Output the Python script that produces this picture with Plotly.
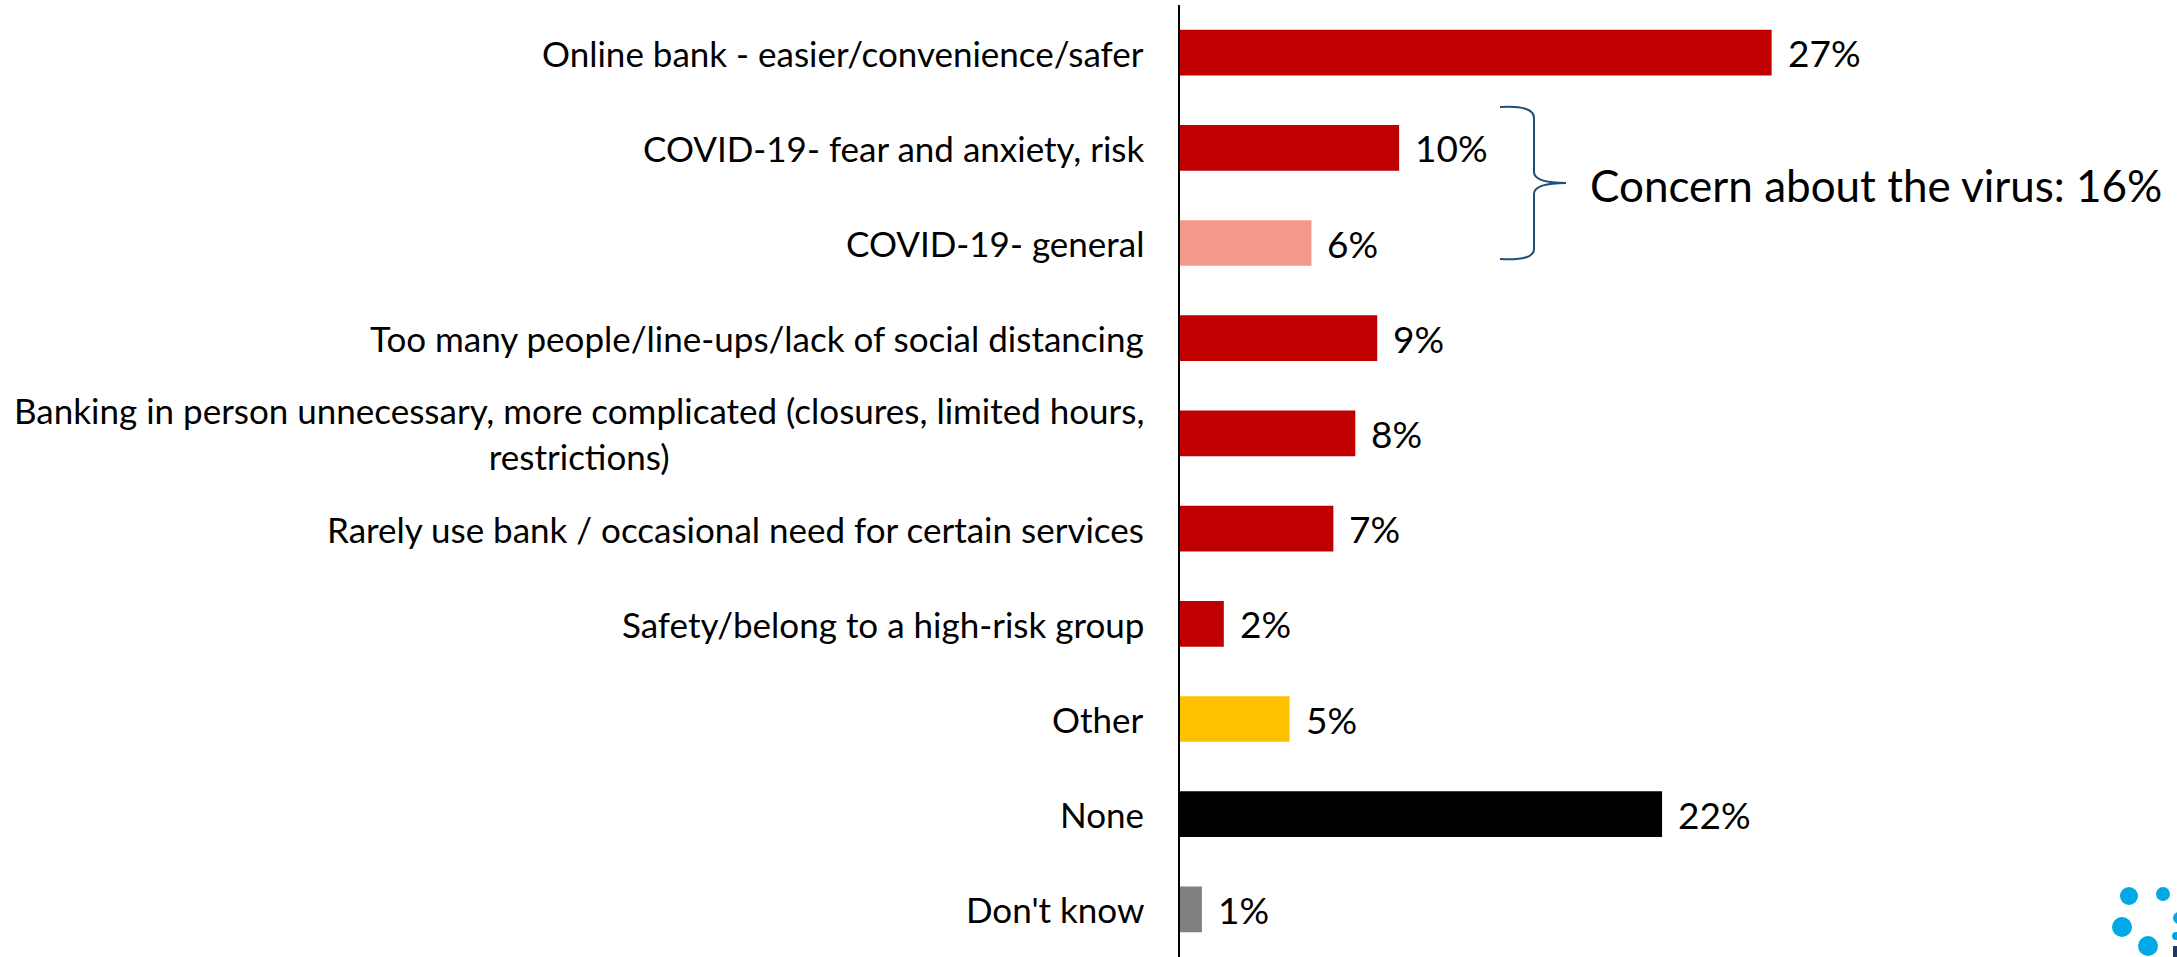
import plotly.graph_objects as go

# Survey categories (top to bottom) and shares in percent
categories = [
    "Online bank - easier/convenience/safer",
    "COVID-19- fear and anxiety, risk",
    "COVID-19- general",
    "Too many people/line-ups/lack of social distancing",
    "Banking in person unnecessary, more complicated (closures, limited hours,<br>restrictions)",
    "Rarely use bank / occasional need for certain services",
    "Safety/belong to a high-risk group",
    "Other",
    "None",
    "Don't know",
]
values = [27, 10, 6, 9, 8, 7, 2, 5, 22, 1]
colors = ["#C00000", "#C00000", "#F4998A", "#C00000", "#C00000",
          "#C00000", "#C00000", "#FFC000", "#000000", "#808080"]

bracket_label = "Concern about the virus: 16%"

FONT = "Lato"
W, H = 2177, 957
ML, MT, MB = 1180, 5, 0
XMAX = 45.5

fig = go.Figure(go.Bar(
    x=values,
    y=categories,
    orientation="h",
    marker=dict(color=colors, line=dict(width=0)),
    hoverinfo="skip",
))

# value labels to the right of each bar
for c, v in zip(categories, values):
    fig.add_annotation(x=v, y=c, xref="x", yref="y", text=f"{v}%",
                       showarrow=False, xanchor="left", yanchor="middle",
                       xshift=14, font=dict(family=FONT, size=37, color="#000000"))

# category labels, centred lines, right-aligned block
for c in categories:
    fig.add_annotation(x=0, y=c, xref="paper", yref="y", text=c,
                       showarrow=False, xanchor="right", yanchor="middle",
                       align="center", xshift=-34,
                       font=dict(family=FONT, size=35, color="#000000"))

# curly brace grouping the two COVID-19 rows
brace = ("M 1500 107 Q 1534 105 1534 118 L 1534 172 Q 1534 183 1566 183 "
         "Q 1534 183 1534 194 L 1534 249 Q 1534 261 1500 259")
fig.add_shape(type="path", path=brace, xref="paper", yref="paper",
              line=dict(color="#1F4E79", width=2), layer="above")
fig.add_annotation(x=1588, y=185, xref="paper", yref="paper", text=bracket_label,
                   showarrow=False, xanchor="left", yanchor="middle",
                   font=dict(family=FONT, size=44, color="#000000"))

# small dotted logo mark in the corner
for cx, cy, r in [(2129, 896, 9), (2163, 894, 7), (2122, 927, 10),
                  (2148, 946, 10), (2179, 918, 6), (2176, 936, 4)]:
    fig.add_shape(type="circle", xref="paper", yref="paper",
                  x0=cx - r, x1=cx + r, y0=cy - r, y1=cy + r,
                  fillcolor="#00A9E6", line=dict(width=0))
fig.add_shape(type="rect", xref="paper", yref="paper",
              x0=2173, x1=2177, y0=946, y1=957,
              fillcolor="#1F3864", line=dict(width=0))

# convert pixel-based paper shapes into fractions of the plotting area
pw, ph = W - ML, H - MT - MB
for s in fig.layout.shapes:
    if s.xref == "paper":
        if s.type == "path":
            parts = s.path.split()
            out = []
            coords = []
            for p in parts:
                try:
                    coords.append(float(p))
                except ValueError:
                    out.append(p)
                    continue
                if len(coords) == 2:
                    px, py = coords
                    out.append(f"{(px - ML) / pw:.5f}")
                    out.append(f"{1 - (py - MT) / ph:.5f}")
                    coords = []
            s.path = " ".join(out)
        else:
            s.x0 = (s.x0 - ML) / pw
            s.x1 = (s.x1 - ML) / pw
            y0, y1 = s.y0, s.y1
            s.y0 = 1 - (y1 - MT) / ph
            s.y1 = 1 - (y0 - MT) / ph
for a in fig.layout.annotations:
    if a.xref == "paper" and a.yref == "paper":
        a.x = (a.x - ML) / pw
        a.y = 1 - (a.y - MT) / ph

fig.update_layout(
    width=W, height=H,
    margin=dict(l=ML, r=0, t=MT, b=MB, pad=0),
    paper_bgcolor="white", plot_bgcolor="white",
    bargap=0.52,
    showlegend=False,
    xaxis=dict(range=[0, XMAX], visible=False, fixedrange=True),
    yaxis=dict(autorange="reversed", showticklabels=False, ticks="",
               showline=True, linecolor="#000000", linewidth=2,
               showgrid=False, zeroline=False, fixedrange=True),
    font=dict(family=FONT),
)

fig.write_html("out.html", config={"displayModeBar": False})
